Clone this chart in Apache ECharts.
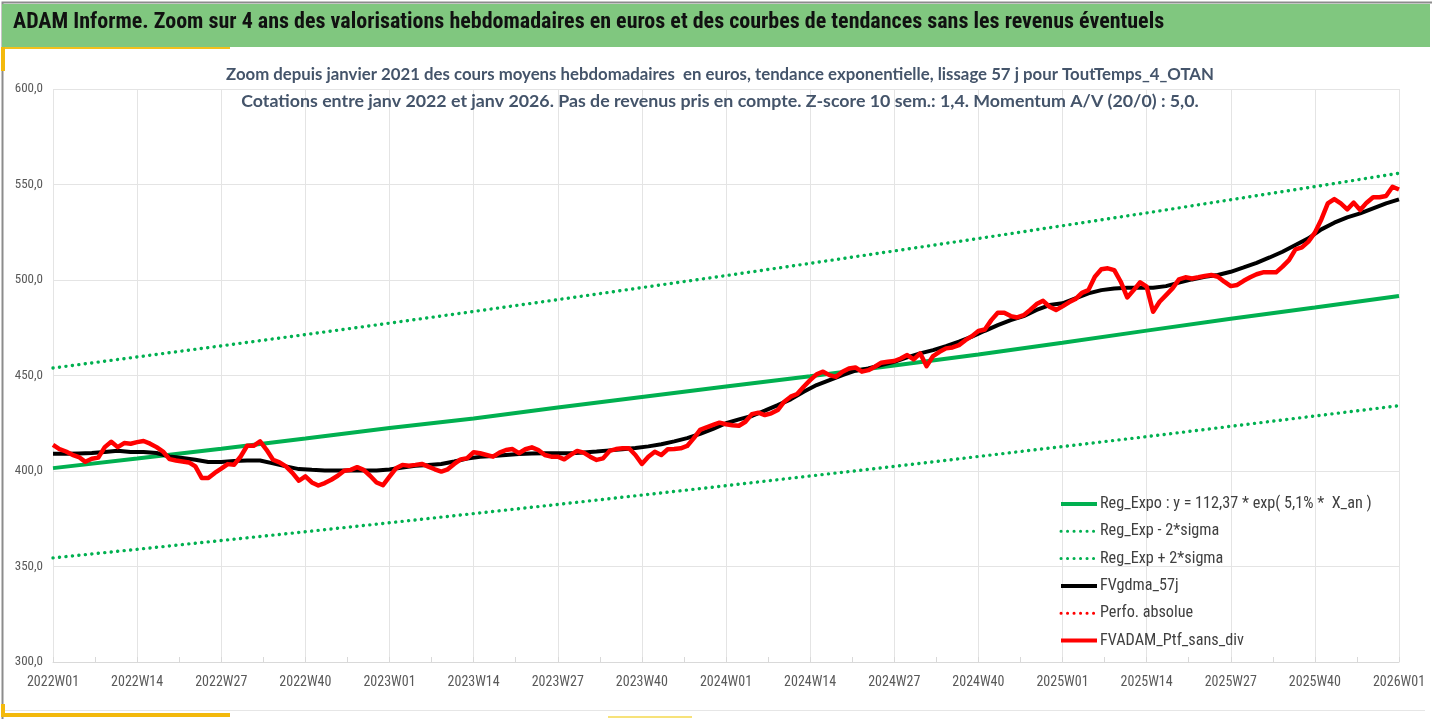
<!DOCTYPE html>
<html lang="fr">
<head>
  <meta charset="UTF-8">
  <title>ADAM Informe</title>
  <script src="https://cdn.jsdelivr.net/npm/echarts@6/dist/echarts.min.js"></script>
  <style>
    html, body { margin: 0; padding: 0; background: #fff; }
    #main { width: 1432px; height: 719px; }
  </style>
</head>
<body>
  <div id="main"></div>
  <script type="text/javascript">
    // semaines 2022W01 .. 2026W01 (52 semaines par an)
    var weeks = [];
    for (var y = 2022; y <= 2025; y++) {
      for (var w = 1; w <= 52; w++) {
        weeks.push(y + 'W' + (w < 10 ? '0' + w : w));
      }
    }
    weeks.push('2026W01');

    // FVADAM_Ptf_sans_div, une valeur par semaine
    var ptfValues = [
      413.7, 411.5, 410.2, 408.5, 407.3, 404.8, 406.4, 407.0, 412.5, 415.3,
      412.5, 414.6, 414.3, 415.1, 415.7, 414.3, 412.5, 410.2, 406.2, 405.5,
      405.0, 404.5, 402.4, 396.3, 396.3, 399.0, 401.2, 403.6, 403.3, 407.6,
      413.2, 413.2, 415.5, 411.1, 405.9, 404.5, 402.4, 399.0, 394.9, 397.2,
      394.0, 392.4, 393.7, 395.4, 397.5, 400.1, 400.6, 402.0, 400.6, 397.5,
      394.0, 392.6, 397.0, 401.4, 403.2, 402.8, 403.2, 403.7, 402.3, 400.9,
      399.7, 400.9, 403.7, 406.1, 406.7, 409.8, 409.3, 408.4, 407.5, 409.6,
      411.0, 411.5, 409.3, 411.4, 412.4, 411.0, 408.4, 407.5, 407.5, 406.1,
      408.4, 410.5, 409.6, 407.5, 405.8, 406.6, 410.5, 411.5, 411.9, 411.9,
      408.4, 403.7, 407.5, 410.1, 408.4, 411.4, 411.5, 411.9, 413.1, 417.1,
      421.5, 422.9, 424.1, 425.3, 424.5, 424.0, 423.7, 425.8, 429.8, 430.5,
      429.3, 430.2, 431.9, 436.3, 438.9, 440.3, 444.1, 447.6, 450.6, 452.0,
      450.2, 449.3, 452.0, 453.7, 454.2, 452.0, 452.8, 454.6, 456.7, 457.2,
      457.6, 458.9, 460.7, 458.4, 461.6, 454.9, 460.2, 462.4, 464.2, 464.7,
      465.9, 468.5, 470.6, 473.3, 474.1, 479.0, 482.9, 482.9, 481.1, 480.4,
      481.6, 484.3, 487.4, 489.1, 486.0, 484.3, 486.2, 488.3, 490.0, 493.3,
      494.7, 501.7, 505.6, 506.1, 505.2, 499.1, 490.9, 494.7, 498.8, 496.5,
      483.4, 488.6, 492.1, 495.6, 500.3, 501.4, 500.8, 501.4, 502.1, 502.6,
      501.7, 499.1, 496.8, 497.4, 499.6, 501.4, 503.0, 504.0, 504.0, 504.0,
      507.0, 510.4, 516.0, 517.1, 520.1, 524.8, 531.7, 540.1, 542.4, 540.1,
      537.0, 540.5, 536.6, 540.5, 543.3, 543.3, 544.0, 548.8, 547.4
    ];

    // FVgdma_57j, lu toutes les deux semaines : [indice semaine, valeur]
    var gdmaPoints = [
      [0, 409.0], [2, 409.0], [4, 409.2], [6, 409.4], [8, 410.0], [10, 410.6],
      [12, 410.0], [14, 410.0], [16, 409.4], [18, 407.6], [20, 406.8], [22, 405.9],
      [24, 404.7], [26, 404.7], [28, 405.3], [30, 405.5], [32, 405.5], [34, 404.0],
      [36, 402.4], [38, 401.0], [40, 400.6], [42, 400.3], [44, 400.3], [46, 400.3],
      [48, 400.3], [50, 400.3], [52, 400.8], [54, 401.8], [56, 402.8], [58, 403.2],
      [60, 403.7], [62, 405.0], [64, 406.5], [66, 407.4], [68, 407.9], [70, 408.4],
      [72, 408.9], [74, 409.2], [76, 409.3], [78, 409.3], [80, 409.3], [82, 409.7],
      [84, 410.2], [86, 410.8], [88, 411.4], [90, 412.0], [92, 412.9], [94, 414.0],
      [96, 415.5], [98, 417.2], [100, 419.4], [102, 422.0], [104, 425.0], [106, 427.0],
      [108, 428.8], [110, 431.6], [112, 434.5], [114, 437.5], [116, 441.5], [118, 445.0],
      [120, 447.6], [122, 450.2], [124, 452.5], [126, 453.7], [128, 455.5], [130, 457.2],
      [132, 459.5], [134, 461.6], [136, 463.3], [138, 465.4], [140, 467.7], [142, 470.3],
      [144, 473.4], [146, 476.4], [148, 479.0], [150, 481.1], [152, 484.3], [154, 486.9],
      [156, 487.8], [158, 490.4], [160, 493.0], [162, 494.7], [164, 495.6], [166, 496.0],
      [168, 496.0], [170, 496.0], [172, 496.8], [174, 498.6], [176, 500.3], [178, 501.7],
      [180, 502.6], [182, 504.3], [184, 506.6], [186, 509.0], [188, 511.8], [190, 514.8],
      [192, 518.3], [194, 521.8], [196, 526.5], [198, 530.0], [200, 532.8], [202, 534.9],
      [204, 537.5], [206, 540.1], [208, 542.2]
    ];

    // tendances lues aux semaines 01/14/27/40 (toutes les 13 semaines)
    var trendIdx = [0, 13, 26, 39, 52, 65, 78, 91, 104, 117, 130, 143, 156, 169, 182, 195, 208];
    var regExpo = [401.5, 406.5, 411.7, 417.0, 422.5, 427.5, 433.2, 438.8, 444.2,
                   449.6, 455.2, 461.0, 467.2, 473.5, 479.7, 485.6, 491.6];
    var regMinus = [354.5, 359.0, 363.6, 368.2, 372.9, 377.7, 382.5, 387.4, 392.3,
                    397.4, 402.4, 407.6, 412.8, 418.0, 423.4, 428.8, 434.2];
    var regPlus = [453.9, 459.7, 465.5, 471.4, 477.4, 483.5, 489.7, 496.0, 502.3,
                   508.7, 515.2, 521.7, 528.4, 535.1, 542.0, 548.9, 555.9];

    var names = [
      'Reg_Expo : y = 112,37 * exp( 5,1% *  X_an )',
      'Reg_Exp - 2*sigma',
      'Reg_Exp + 2*sigma',
      'FVgdma_57j',
      'Perfo. absolue',
      'FVADAM_Ptf_sans_div'
    ];

    var subtitleLines = [
      'Zoom depuis janvier 2021 des cours moyens hebdomadaires  en euros, tendance exponentielle, lissage 57 j pour ToutTemps_4_OTAN',
      'Cotations entre janv 2022 et janv 2026. Pas de revenus pris en compte. Z-score 10 sem.: 1,4. Momentum A/V (20/0) : 5,0.'
    ];

    var NARROW = "'Liberation Sans Narrow', 'Roboto Condensed', 'Open Sans', sans-serif";
    var HUMAN = "Lato, 'Open Sans', sans-serif";
    var GREEN = '#00b050';
    var RED = '#ff0000';
    var DOTS = [0.1, 6.4];

    function pairs(idx, vals) {
      return idx.map(function (i, k) { return [i, vals[k]]; });
    }

    var myChart = echarts.init(document.getElementById('main'));

    var option = {
      animation: false,
      backgroundColor: '#fff',
      textStyle: { fontFamily: NARROW },
      graphic: [
        // bandeau du titre et liserés
        { type: 'rect', left: 0, top: 0, shape: { width: 1432, height: 719 },
          style: { fill: 'none', stroke: '#8c8c8c', lineWidth: 2 }, z: 0 },
        { type: 'rect', left: 2, top: 4, shape: { width: 1428, height: 43 },
          style: { fill: '#80c77f' }, z: 0 },
        { type: 'rect', left: 5, top: 47, shape: { width: 225, height: 2 },
          style: { fill: '#f3c01c' }, z: 0 },
        { type: 'rect', left: 1, top: 47, shape: { width: 4, height: 24 },
          style: { fill: '#f3b90c' }, z: 0 },
        { type: 'rect', left: 1, top: 704, shape: { width: 4, height: 13 },
          style: { fill: '#f3b90c' }, z: 0 },
        { type: 'rect', left: 1, top: 713, shape: { width: 229, height: 4 },
          style: { fill: '#f3b90c' }, z: 0 },
        { type: 'rect', left: 608, top: 716, shape: { width: 84, height: 2 },
          style: { fill: '#f7e27a' }, z: 0 },
        { type: 'rect', left: 5, top: 710, shape: { width: 1420, height: 1 },
          style: { fill: '#e6e6e6' }, z: 0 }
      ],
      title: [
        {
          text: 'ADAM Informe. Zoom sur 4 ans des valorisations hebdomadaires en euros et des courbes de tendances sans les revenus éventuels',
          left: 8, top: 11, padding: [0, 5],
          textStyle: { fontFamily: NARROW, fontSize: 22, fontWeight: 'bold', color: '#111' }
        },
        {
          text: '{a|' + subtitleLines[0] + '}\n{b|' + subtitleLines[1] + '}',
          left: 720, top: 62, textAlign: 'center', padding: 0,
          textStyle: {
            fontFamily: HUMAN, fontWeight: 'bold', color: '#44546a',
            rich: {
              a: { fontFamily: HUMAN, fontSize: 16.8, fontWeight: 'bold', color: '#44546a', lineHeight: 26 },
              b: { fontFamily: HUMAN, fontSize: 17.8, fontWeight: 'bold', color: '#44546a', lineHeight: 26 }
            }
          }
        }
      ],
      legend: {
        orient: 'vertical',
        left: 1054,
        top: 491,
        itemWidth: 36,
        itemHeight: 14,
        itemGap: 11.3,
        textStyle: { fontFamily: NARROW, fontSize: 16.2, lineHeight: 16, color: '#404040', padding: [0, 0, 0, -2] },
        itemStyle: { opacity: 0 },
        data: [
          { name: names[0], lineStyle: { width: 4 } },
          { name: names[1], lineStyle: { width: 3 } },
          { name: names[2], lineStyle: { width: 3 } },
          { name: names[3], lineStyle: { width: 4 } },
          { name: names[4], lineStyle: { width: 3 } },
          { name: names[5], lineStyle: { width: 4 } }
        ]
      },
      grid: { left: 53, right: 33, top: 89, bottom: 57, containLabel: false },
      xAxis: [
        {
          type: 'category',
          data: weeks,
          boundaryGap: false,
          axisLine: { lineStyle: { color: '#d9d9d9', width: 1 } },
          axisTick: { show: false },
          axisLabel: {
            interval: 12, margin: 13, color: '#595959',
            fontFamily: NARROW, fontSize: 14
          },
          splitLine: { show: true, interval: 12, lineStyle: { color: '#e4e4e4', width: 1 } }
        },
        {
          // petites graduations à mi-chemin entre les libellés
          type: 'value', position: 'bottom', min: 0, max: 208, interval: 6.5,
          axisLine: { show: false },
          axisLabel: { show: false },
          splitLine: { show: false },
          axisTick: { show: true, inside: true, length: 5, lineStyle: { color: '#d9d9d9' } }
        }
      ],
      yAxis: {
        type: 'value',
        min: 300, max: 600, interval: 50,
        axisLine: { show: false },
        axisTick: { show: false },
        axisLabel: {
          margin: 10, color: '#595959', fontFamily: NARROW, fontSize: 13,
          formatter: function (v) { return v.toFixed(1).replace('.', ','); }
        },
        splitLine: { lineStyle: { color: '#e4e4e4', width: 1 } }
      },
      series: [
        {
          name: names[0], type: 'line', symbol: 'none',
          data: pairs(trendIdx, regExpo),
          lineStyle: { color: GREEN, width: 4 }, itemStyle: { color: GREEN }
        },
        {
          name: names[1], type: 'line', symbol: 'none',
          data: pairs(trendIdx, regMinus),
          lineStyle: { color: GREEN, width: 3.4, type: DOTS, cap: 'round' }, itemStyle: { color: GREEN }
        },
        {
          name: names[2], type: 'line', symbol: 'none',
          data: pairs(trendIdx, regPlus),
          lineStyle: { color: GREEN, width: 3.4, type: DOTS, cap: 'round' }, itemStyle: { color: GREEN }
        },
        {
          name: names[3], type: 'line', symbol: 'none',
          data: gdmaPoints,
          lineStyle: { color: '#000', width: 4 }, itemStyle: { color: '#000' }
        },
        {
          name: names[4], type: 'line', symbol: 'none',
          data: [],
          lineStyle: { color: RED, width: 3.4, type: DOTS, cap: 'round' }, itemStyle: { color: RED }
        },
        {
          name: names[5], type: 'line', symbol: 'none',
          data: ptfValues,
          lineStyle: { color: RED, width: 4.5, join: 'round' }, itemStyle: { color: RED }
        }
      ]
    };

    myChart.setOption(option);
  </script>
</body>
</html>
